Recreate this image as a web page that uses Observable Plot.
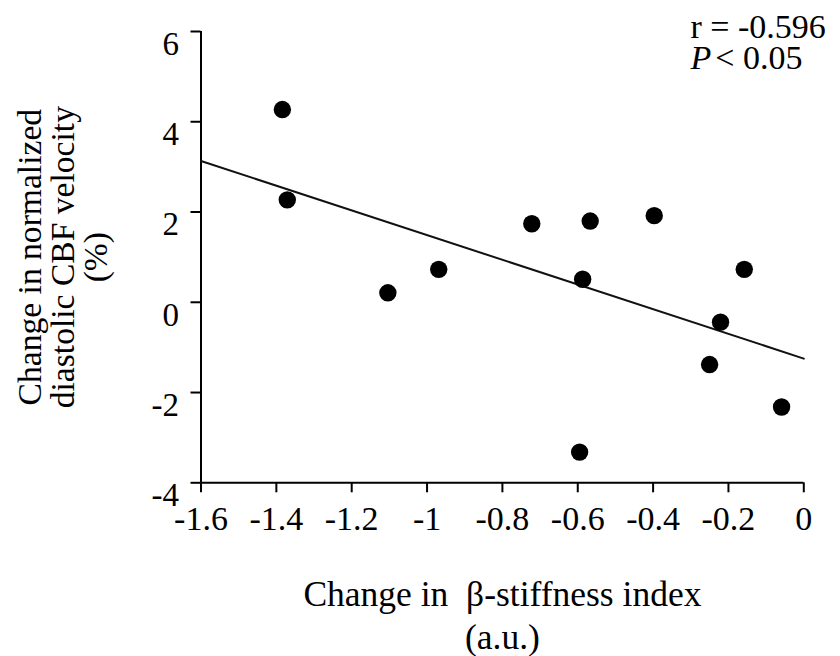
<!DOCTYPE html>
<html>
<head>
<meta charset="utf-8">
<script src="https://cdn.jsdelivr.net/npm/d3@7"></script>
<script src="https://cdn.jsdelivr.net/npm/@observablehq/plot@0.6"></script>
<style>
  html, body { margin: 0; padding: 0; background: #fff; }
  #chart svg { display: block; }
</style>
</head>
<body>
<div id="chart"></div>
<script>
// Change in β-stiffness index (a.u.) for each participant
const stiffnessChange = [-1.384, -1.371, -1.104, -0.969, -0.722, -0.567, -0.397, -0.587, -0.158, -0.221, -0.250, -0.059, -0.595];
// Change in normalized diastolic CBF velocity (%) for the same participants
const cbfChange = [4.27, 2.27, 0.21, 0.73, 1.74, 1.80, 1.92, 0.51, 0.73, -0.44, -1.38, -2.32, -3.32];

const xTicks = [-1.6, -1.4, -1.2, -1, -0.8, -0.6, -0.4, -0.2, 0];
const yTicks = [-4, -2, 0, 2, 4, 6];

const xTitle = "Change in \u00a0β-stiffness index\n(a.u.)";
const yTitle = "Change in normalized\ndiastolic CBF velocity\n(%)";
const statR = "r = -0.596";
const statP = "P";
const statPRest = "< 0.05";

const points = stiffnessChange.map((x, i) => ({x, y: cbfChange[i]}));

// Least-squares fit, drawn across the whole x range of the axis
const mx = d3.mean(stiffnessChange);
const my = d3.mean(cbfChange);
const slope = d3.sum(points, d => (d.x - mx) * (d.y - my)) / d3.sum(points, d => (d.x - mx) ** 2);
const intercept = my - slope * mx;
const xDomain = d3.extent(xTicks);
const yDomain = d3.extent(yTicks);
const fit = xDomain.map(x => ({x, y: intercept + slope * x}));

const serif = "'Liberation Serif', 'Times New Roman', Times, serif";
const ink = "#000";

const chart = Plot.plot({
  width: 840,
  height: 656,
  marginLeft: 200.5,
  marginRight: 36.7,
  marginTop: 31,
  marginBottom: 173.7,
  style: {fontFamily: serif, fontSize: "34px", color: ink, background: "#fff"},
  x: {domain: xDomain},
  y: {domain: yDomain},
  marks: [
    Plot.axisX(xTicks, {tickSize: 10, tickPadding: 13, strokeWidth: 2, fontSize: 34, tickFormat: d => String(d), label: null}),
    Plot.axisY(yTicks, {tickSize: 10, tickPadding: 12, strokeWidth: 2, fontSize: 33, lineAnchor: "top", tickFormat: d => String(d), label: null}),
    Plot.ruleX([xDomain[0]], {stroke: ink, strokeWidth: 2}),
    Plot.ruleY([yDomain[0]], {stroke: ink, strokeWidth: 2}),
    Plot.line(fit, {x: "x", y: "y", stroke: "#111", strokeWidth: 2}),
    Plot.dot(points, {x: "x", y: "y", r: 8.7, fill: ink, stroke: "none"}),
    Plot.text([xTitle], {frameAnchor: "bottom", textAnchor: "middle", lineAnchor: "middle", dy: 131, lineHeight: 1.2, fontSize: 35.5, fill: ink}),
    Plot.text([yTitle], {frameAnchor: "left", textAnchor: "middle", lineAnchor: "middle", rotate: -90, dx: -137.6, lineHeight: 0.98, fontSize: 33.6, fill: ink}),
    Plot.text([statR], {frameAnchor: "top-right", textAnchor: "start", lineAnchor: "middle", dx: -113.3, dy: -4, fontSize: 34, fill: ink}),
    Plot.text([statP], {frameAnchor: "top-right", textAnchor: "start", lineAnchor: "middle", dx: -113.3, dy: 27, fontSize: 34, fontStyle: "italic", fill: ink}),
    Plot.text([statPRest], {frameAnchor: "top-right", textAnchor: "start", lineAnchor: "middle", dx: -88.5, dy: 27, fontSize: 34, fill: ink})
  ]
});

document.getElementById("chart").appendChild(chart);
</script>
</body>
</html>
